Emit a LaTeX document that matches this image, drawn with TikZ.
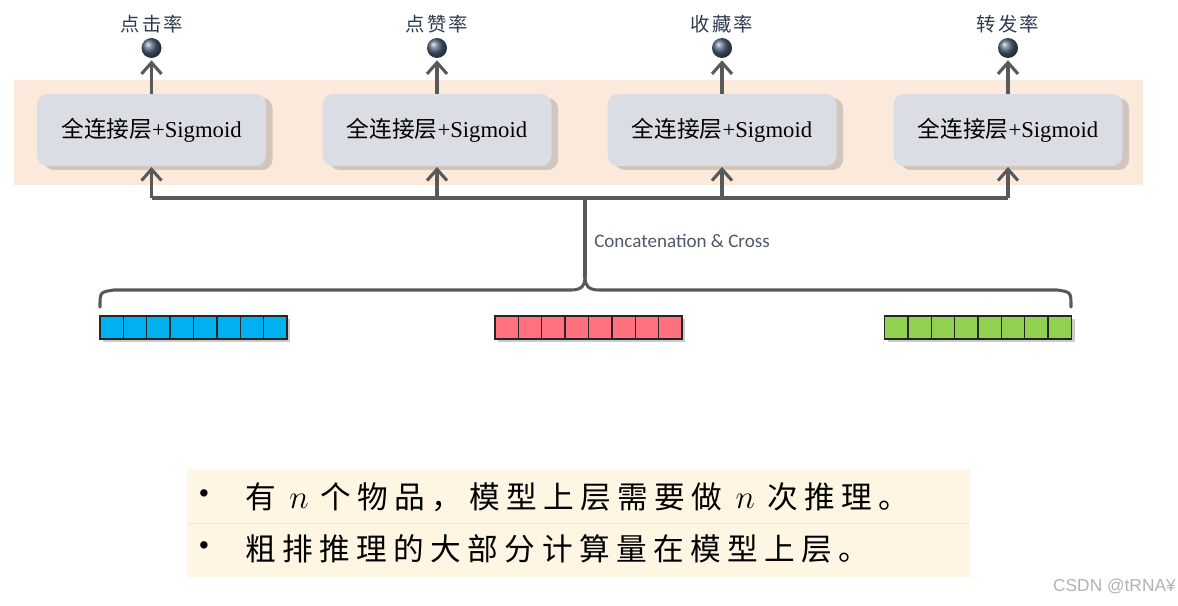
\documentclass[tikz,border=0pt]{standalone}
\usepackage{fontspec}
\setmainfont{Liberation Serif}
\newfontfamily\cjk{Noto Sans CJK SC}
\newfontfamily\cjklab[LetterSpace=12]{Noto Sans CJK SC}
\newfontfamily\cjkwide[LetterSpace=21]{Noto Sans CJK SC}
\newfontfamily\carlito{Carlito}
\newfontfamily\wmfont{Liberation Sans}
\usetikzlibrary{arrows.meta,shadows,shadings}
\definecolor{band}{HTML}{FBE9DC}
\definecolor{boxfill}{HTML}{DADDE3}
\definecolor{linegray}{HTML}{595959}
\definecolor{cream}{HTML}{FEF5E3}
\definecolor{creamline}{HTML}{F7E9CF}
\definecolor{ballc}{HTML}{50637C}
\definecolor{labc}{HTML}{2E3B4E}
\definecolor{concatc}{HTML}{4F5868}
\definecolor{vblue}{HTML}{00B0F0}
\definecolor{vred}{HTML}{FF717F}
\definecolor{vgreen}{HTML}{92D050}
\tikzset{
  fcbox/.style={rounded corners=8pt, fill=boxfill, minimum width=171.75pt, minimum height=54pt,
    inner sep=0pt, font=\fontsize{17}{20}\selectfont,
    drop shadow={shadow xshift=5pt, shadow yshift=-3pt, opacity=0.3, fill=black!55}},
  ballnode/.style={circle, inner sep=0pt, minimum size=15pt, ball color=ballc, draw=none},
  toplabel/.style={font=\fontsize{14.5}{16}\selectfont\cjklab, text=labc, inner sep=0pt},
  arr/.style={draw=linegray, line width=2.3pt, -{Straight Barb[length=8.5pt,width=15pt,line width=2.3pt]}},
  conn/.style={draw=linegray, line width=2.3pt},
  vecbox/.style={minimum width=140.25pt, minimum height=17.25pt, inner sep=0pt, draw=black!85, line width=1.1pt,
    drop shadow={shadow xshift=2.5pt, shadow yshift=-2.5pt, opacity=0.35, fill=black!60}},
  cellline/.style={draw=black!85, line width=1.1pt},
  bullettext/.style={anchor=west, inner sep=0pt, font=\fontsize{23}{26}\selectfont}
}
\begin{document}
\begin{tikzpicture}[x=0.75pt,y=-0.75pt]
\useasboundingbox (0,0) rectangle (1178,606);
% band
\fill[band] (14,80) rectangle (1143,185);
% boxes
\node[fcbox] (b1) at (151.5,130) {{\cjk 全连接层}+Sigmoid};
\node[fcbox] (b2) at (437,130) {{\cjk 全连接层}+Sigmoid};
\node[fcbox] (b3) at (722,130) {{\cjk 全连接层}+Sigmoid};
\node[fcbox] (b4) at (1008,130) {{\cjk 全连接层}+Sigmoid};
% balls and labels
\node[ballnode] (o1) at (151.5,48) {};
\node[ballnode] (o2) at (437,48) {};
\node[ballnode] (o3) at (722,48) {};
\node[ballnode] (o4) at (1008,48) {};
\node[toplabel] (l1) at (152,24) {点击率};
\node[toplabel] (l2) at (437,24) {点赞率};
\node[toplabel] (l3) at (722,24) {收藏率};
\node[toplabel] (l4) at (1008,24) {转发率};
\foreach \i in {1,...,4} {
  \draw[arr, shorten >=1.5pt] (b\i.north) -- (o\i.south);
}
% hub and bus
\coordinate (hub) at (585,198);
\coordinate (tip) at (585,278);
\draw[conn] (b1.south |- hub) -- (b4.south |- hub);
\foreach \i in {1,...,4} {
  \draw[arr, shorten >=0.5pt] (b\i.south |- hub) -- (b\i.south);
}
\draw[conn] (hub) -- (tip);
% brace
\coordinate (bl) at (100,307);
\coordinate (br) at (1071,307);
\draw[conn, line cap=round] (bl) .. controls (100,292) .. (114,290) -- (571,290)
   .. controls (582,290) and (585,285) .. (tip)
   .. controls (585,285) and (588,290) .. (599,290) -- (1057,290)
   .. controls (1071,292) .. (br);
\node[anchor=west, inner sep=0pt, text=concatc, font=\fontsize{14.3}{16}\selectfont\carlito] (cc) at (594,241) {Concatenation \& Cross};
% vectors
\node[vecbox, fill=vblue] (v1) at (193.5,327.5) {};
\node[vecbox, fill=vred] (v2) at (588.5,327.5) {};
\node[vecbox, fill=vgreen] (v3) at (978,327.5) {};
\foreach \x in {100,495,884.5} {
  \foreach \k in {1,...,7} {
    \draw[cellline] ({\x+\k*23.375},316) -- ({\x+\k*23.375},339);
  }
}
% bottom text box
\fill[cream] (187,469) rectangle (970,577);
\draw[creamline, line width=0.6pt] (187,523) -- (970,523);
\node[anchor=center, inner sep=0pt, font=\fontsize{23}{26}\selectfont] (d1) at (204,497) {•};
\node[anchor=center, inner sep=0pt, font=\fontsize{23}{26}\selectfont] (d2) at (204,549) {•};
\node[bullettext] (t1) at (245,497) {{\cjkwide 有}\hspace{10pt}$n$\hspace{9pt}{\cjkwide 个物品，模型上层需要做}\hspace{10pt}$n$\hspace{9pt}{\cjkwide 次推理。}};
\node[bullettext] (t2) at (245,549) {{\cjkwide 粗排推理的大部分计算量在模型上层。}};
% watermark
\node[anchor=east, inner sep=0pt, text=black!30, font=\fontsize{13}{15}\selectfont\wmfont] (wm) at (1176,586) {CSDN @tRNA¥};
\end{tikzpicture}
\end{document}
